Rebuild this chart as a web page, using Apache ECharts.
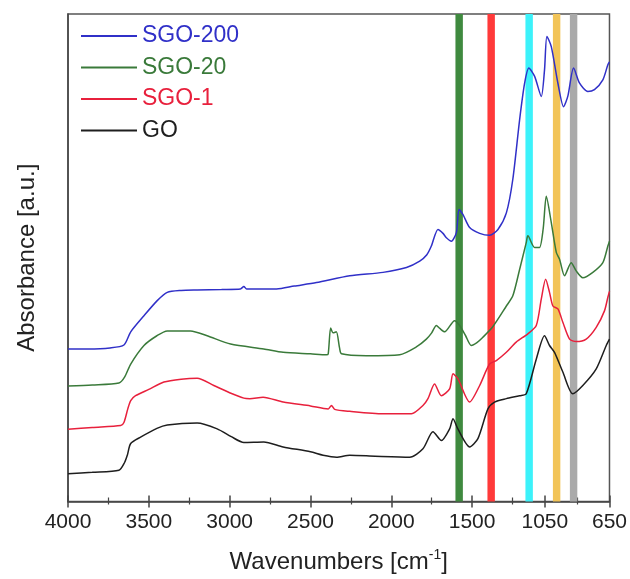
<!DOCTYPE html>
<html>
<head>
<meta charset="utf-8">
<script src="https://cdn.jsdelivr.net/npm/echarts@6/dist/echarts.min.js"></script>
<style>html,body{margin:0;padding:0;background:#fff}#c{width:630px;height:579px}</style>
</head>
<body>
<div id="c"></div>
<script>
// Wavenumber (cm-1), absorbance (a.u., offset traces)
const SGO200 = [[4000,31.3],[3876,31.3],[3740,31.5],[3654,32.1],[3612,34.8],[3530,38.1],[3448,41.2],[3386,42.9],[3300,43.3],[3201,43.4],[3050,43.5],[2933,43.6],[2912,44.1],[2895,43.6],[2789,43.6],[2710,43.6],[2600,44.2],[2463,44.9],[2257,46.3],[2051,47.0],[1906,48.0],[1824,49.3],[1780,50.6],[1752,52.4],[1711,55.8],[1680,55.0],[1659,54.1],[1628,53.4],[1597,55.2],[1581,59.9],[1557,58.9],[1515,56.2],[1453,55.0],[1392,54.6],[1340,55.8],[1288,59.2],[1248,66.1],[1206,78.3],[1175,85.8],[1149,88.9],[1113,87.2],[1072,83.1],[1052,88.5],[1037,95.4],[1010,93.3],[969,85.8],[934,81.0],[908,83.1],[872,88.9],[835,85.8],[784,84.1],[743,84.5],[691,86.5],[660,89.6],[650,90.2]];
const SGO20 = [[4000,23.7],[3850,23.9],[3685,24.3],[3650,25.5],[3612,28.2],[3530,32.0],[3450,34.0],[3386,35.0],[3242,35.0],[3139,34.0],[2994,32.3],[2789,31.3],[2669,30.6],[2500,30.3],[2401,30.1],[2390,30.3],[2375,35.6],[2360,34.6],[2340,34.8],[2320,31.5],[2308,30.3],[2154,29.9],[1948,30.1],[1845,31.7],[1783,33.3],[1750,34.6],[1721,36.1],[1700,35.5],[1670,34.8],[1608,37.1],[1577,36.1],[1540,34.0],[1505,32.0],[1470,32.6],[1433,33.7],[1371,35.9],[1288,40.1],[1248,42.2],[1206,47.6],[1165,53.1],[1155,54.5],[1113,52.1],[1083,52.1],[1060,56.0],[1041,62.6],[1010,57.2],[979,51.1],[959,49.7],[928,46.3],[887,49.0],[856,47.3],[815,45.9],[753,47.0],[691,49.0],[660,52.4],[650,53.4]];
const SGO1 = [[4000,14.8],[3850,15.2],[3674,15.6],[3654,16.2],[3630,19.0],[3612,20.7],[3582,21.7],[3500,23.0],[3407,24.5],[3300,25.1],[3201,25.3],[3098,23.8],[3000,22.3],[2912,21.2],[2875,21.1],[2793,21.4],[2669,20.4],[2500,19.6],[2390,19.0],[2370,19.7],[2350,18.9],[2257,18.5],[2051,18.0],[1875,18.0],[1804,19.7],[1773,21.1],[1732,24.1],[1690,21.7],[1639,23.1],[1618,26.2],[1588,25.2],[1515,20.4],[1453,23.8],[1392,28.2],[1350,28.9],[1288,30.6],[1227,32.7],[1155,34.4],[1103,36.1],[1072,41.5],[1045,45.6],[1021,42.9],[1000,40.1],[969,39.5],[938,36.7],[897,33.3],[856,32.8],[794,33.3],[732,35.7],[681,39.1],[660,41.9],[650,43.1]];
const GO = [[4000,5.7],[3850,6.0],[3685,6.4],[3650,8.0],[3633,9.5],[3612,11.9],[3551,13.2],[3450,15.0],[3386,15.7],[3201,16.1],[3077,14.9],[2990,13.3],[2912,12.1],[2789,12.2],[2669,11.2],[2500,10.2],[2422,9.5],[2339,9.1],[2257,9.5],[2100,9.3],[1886,9.1],[1804,10.8],[1742,14.3],[1690,12.5],[1639,14.9],[1618,17.0],[1588,14.9],[1515,11.2],[1464,12.9],[1402,19.0],[1361,20.4],[1288,21.1],[1206,21.7],[1165,22.1],[1103,29.2],[1052,34.0],[1021,32.0],[990,30.6],[938,26.5],[877,22.1],[815,23.8],[732,27.2],[670,32.0],[650,33.3]];
const seriesNames = ['SGO-200','SGO-20','SGO-1','GO'];
const bandCenters = [1580, 1382, 1147, 977, 872];
const majorTicks = [4000, 3500, 3000, 2500, 2000, 1500, 1050, 650];
const minorTicks = [3750, 3250, 2750, 2250, 1750, 1250, 850];

const lineColors = ['#3030c8', '#3a7a3a', '#e8203c', '#1e1e1e'];
const bandColors = ['#3f8a3f', '#ff3a3a', '#3cf2fa', '#f2c458', '#aaaaaa'];
const seriesData = [SGO200, SGO20, SGO1, GO];
const halfW = 23;

const chart = echarts.init(document.getElementById('c'), null, {renderer: 'canvas'});
const FONT = 'Liberation Sans, Arial, sans-serif';
const baseX = {
  type: 'value', min: 650, max: 4000, inverse: true, position: 'bottom',
  splitLine: {show: false}, axisLabel: {show: false}, axisLine: {show: false},
  axisTick: {show: false}
};
const option = {
  animation: false,
  backgroundColor: '#fff',
  grid: {left: 68, right: 20, top: 14, bottom: 76, show: true, borderColor: '#555', borderWidth: 1.5, backgroundColor: 'transparent'},
  legend: {
    orient: 'vertical', left: 76, top: 19, itemWidth: 56, itemHeight: 2, itemGap: 7.5,
    icon: 'rect',
    textStyle: {fontFamily: FONT, fontSize: 23, lineHeight: 24, padding: [0,0,0,0]},
    data: seriesNames.map((n, i) => ({name: n, textStyle: {color: lineColors[i]}}))
  },
  xAxis: [
    Object.assign({}, baseX, {
      name: 'Wavenumbers [cm{sup|-1}]', nameLocation: 'middle', nameGap: 47,
      nameTextStyle: {fontFamily: FONT, fontSize: 24, color: '#222', rich: {sup: {fontFamily: FONT, fontSize: 14, color: '#222', padding: [0,0,13,0]}}},
      axisLine: {show: true, lineStyle: {color: '#444', width: 1.5}},
      axisTick: {show: true, inside: true, length: 6, customValues: majorTicks, lineStyle: {color: '#444', width: 1.5}},
      axisLabel: {show: true, customValues: majorTicks, margin: 10, fontFamily: FONT, fontSize: 21, color: '#222', formatter: v => String(v)}
    }),
    Object.assign({}, baseX, {axisTick: {show: true, inside: false, length: 6, customValues: majorTicks, lineStyle: {color: '#444', width: 1.5}}}),
    Object.assign({}, baseX, {axisTick: {show: true, inside: true, length: 4, customValues: minorTicks, lineStyle: {color: '#444', width: 1.2}}}),
    Object.assign({}, baseX, {axisTick: {show: true, inside: false, length: 3, customValues: minorTicks, lineStyle: {color: '#444', width: 1.2}}})
  ],
  yAxis: {
    type: 'value', min: 0, max: 100,
    name: 'Absorbance [a.u.]', nameLocation: 'middle', nameGap: 29,
    nameTextStyle: {fontFamily: FONT, fontSize: 24, color: '#222'},
    axisLine: {show: true, lineStyle: {color: '#444', width: 1.5}},
    axisTick: {show: false}, axisLabel: {show: false}, splitLine: {show: false}
  },
  series: [
    {
      type: 'line', name: '_bands', data: [], silent: true, z: 1,
      markArea: {
        silent: true,
        data: bandCenters.map((c, i) => [{xAxis: c + halfW, itemStyle: {color: bandColors[i], opacity: 1}}, {xAxis: c - halfW}])
      }
    }
  ].concat(seriesData.map((d, i) => ({
    type: 'line', name: seriesNames[i], data: d, symbol: 'none', smooth: 0.25, z: 3,
    lineStyle: {color: lineColors[i], width: 1.5}, itemStyle: {color: lineColors[i]}
  })))
};
chart.setOption(option);
</script>
</body>
</html>
